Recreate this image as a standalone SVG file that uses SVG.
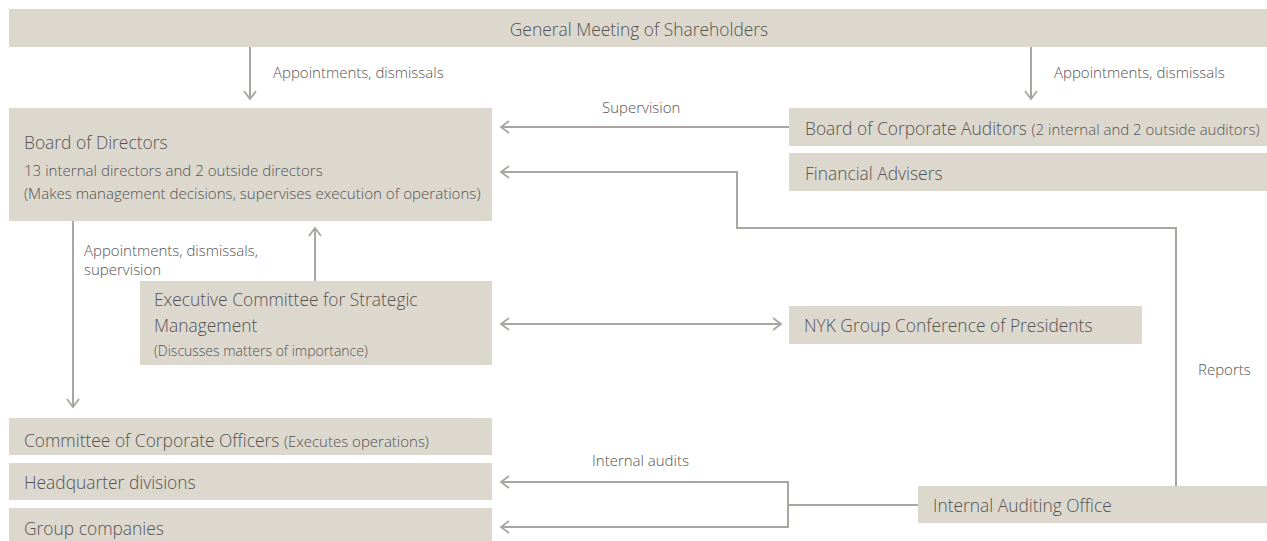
<svg xmlns="http://www.w3.org/2000/svg" width="1267" height="541" viewBox="0 0 1267 541">
<defs>
<style>
.box{fill:#dcd8ce;}
.t{font-family:"Open Sans","Liberation Sans",sans-serif;font-weight:300;fill:#555353;}
.m{font-size:17.4px;}
.s{font-size:15.1px;}
.xs{font-size:15px;}
.xd{font-size:14px;}
.lbl{font-family:"Open Sans","Liberation Sans",sans-serif;font-weight:300;fill:#555353;font-size:15px;}
.ln{fill:none;stroke:#a9a5a1;stroke-width:2;}
.arr{marker-end:url(#ah);}
</style>
<marker id="ah" viewBox="-10 -8 12 16" refX="0" refY="0" markerWidth="12" markerHeight="16" markerUnits="userSpaceOnUse" orient="auto-start-reverse">
<path d="M-8,-6 L0,0 L-8,6" fill="none" stroke="#a9a5a1" stroke-width="1.8"/>
</marker>
</defs>
<rect width="1267" height="541" fill="#ffffff"/>

<g id="connectors">
<path class="ln arr" d="M250,47 V99"/>
<path class="ln arr" d="M1031,47 V99"/>
<path class="ln arr" d="M789,127 H501"/>
<path class="ln arr" d="M1176,486 V228 H737 V172 H501"/>
<path class="ln arr" d="M73,221 V407"/>
<path class="ln arr" d="M315,281 V228"/>
<path class="ln" d="M501,324 H781" marker-start="url(#ah)" marker-end="url(#ah)"/>
<path class="ln" d="M501,482 H788 V527 H501" marker-start="url(#ah)" marker-end="url(#ah)"/>
<path class="ln" d="M918,505 H788"/>
</g>

<g id="edge-labels">
<text class="lbl" x="273" y="78">Appointments, dismissals</text>
<text class="lbl" x="1054" y="78">Appointments, dismissals</text>
<text class="lbl" x="602" y="113">Supervision</text>
<text class="lbl" x="84" y="256">Appointments, dismissals,</text>
<text class="lbl" x="84" y="275">supervision</text>
<text class="lbl" x="1198" y="375">Reports</text>
<text class="lbl" x="592" y="466">Internal audits</text>
</g>

<g id="general-meeting">
<rect class="box" x="9" y="9" width="1258" height="38"/>
<text class="t m" x="639" y="36" text-anchor="middle">General Meeting of Shareholders</text>
</g>

<g id="board-of-directors">
<rect class="box" x="9" y="108" width="483" height="113"/>
<text class="t m" x="24" y="149">Board of Directors</text>
<text class="t s" x="24" y="176">13 internal directors and 2 outside directors</text>
<text class="t s" x="24" y="199">(Makes management decisions, supervises execution of operations)</text>
</g>

<g id="board-of-corporate-auditors">
<rect class="box" x="789" y="108" width="478" height="38"/>
<text class="t m" x="805" y="135">Board of Corporate Auditors <tspan class="xs">(2 internal and 2 outside auditors)</tspan></text>
</g>

<g id="financial-advisers">
<rect class="box" x="789" y="153" width="478" height="38"/>
<text class="t m" x="805" y="180">Financial Advisers</text>
</g>

<g id="executive-committee">
<rect class="box" x="140" y="281" width="352" height="84"/>
<text class="t m" x="154" y="306">Executive Committee for Strategic</text>
<text class="t m" x="154" y="332">Management</text>
<text class="t xd" x="154" y="356">(Discusses matters of importance)</text>
</g>

<g id="nyk-group-conference">
<rect class="box" x="789" y="306" width="353" height="38"/>
<text class="t m" x="804" y="332">NYK Group Conference of Presidents</text>
</g>

<g id="committee-of-corporate-officers">
<rect class="box" x="9" y="418" width="483" height="37"/>
<text class="t m" x="24" y="447">Committee of Corporate Officers <tspan class="xs">(Executes operations)</tspan></text>
</g>

<g id="headquarter-divisions">
<rect class="box" x="9" y="463" width="483" height="37"/>
<text class="t m" x="24" y="489">Headquarter divisions</text>
</g>

<g id="group-companies">
<rect class="box" x="9" y="508" width="483" height="33"/>
<text class="t m" x="24" y="535">Group companies</text>
</g>

<g id="internal-auditing-office">
<rect class="box" x="918" y="486" width="349" height="37"/>
<text class="t m" x="933" y="512">Internal Auditing Office</text>
</g>
</svg>
